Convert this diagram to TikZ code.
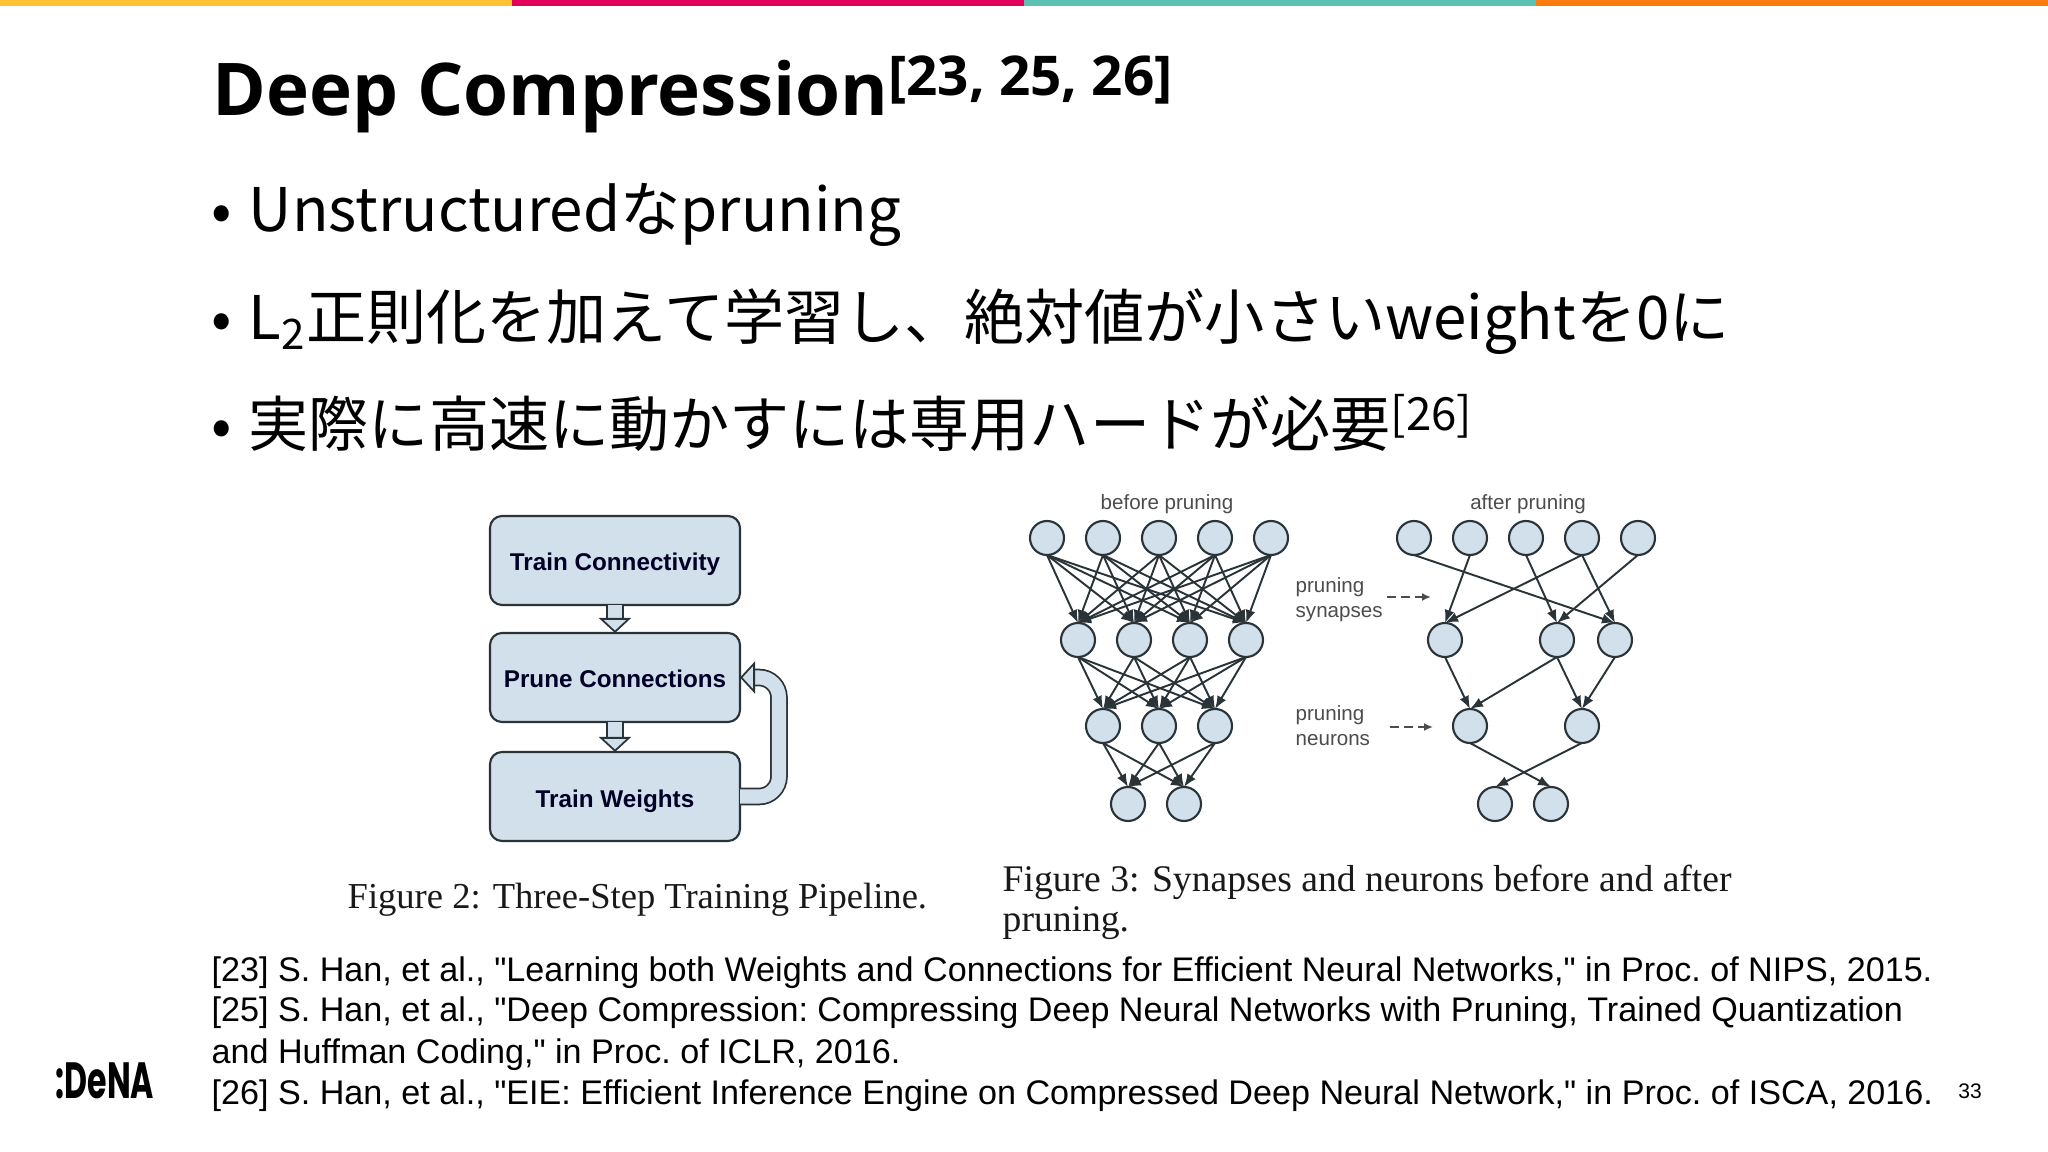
\documentclass[tikz,border=0pt]{standalone}
\usepackage{fontspec}
\setmainfont{Liberation Sans}[Ligatures=TeXOff]
\newfontfamily\jpfont{Noto Sans CJK JP}
\newfontfamily\titlefont{Open Sans}
\newfontfamily\capfont{Liberation Serif}
\newfontfamily\logofont{Poppins}
\usetikzlibrary{arrows.meta, positioning}
\definecolor{barYellow}{HTML}{FFC233}
\definecolor{barPink}{HTML}{E2005A}
\definecolor{barTeal}{HTML}{5CC1B0}
\definecolor{barOrange}{HTML}{FF7D0F}
\definecolor{boxBlue}{HTML}{D2E0EC}
\definecolor{edgeDark}{HTML}{2A3438}

\begin{document}
\begin{tikzpicture}[
            node distance=0.22cm and 0.22cm,
            title/.style={inner sep=0pt, anchor=base west, font=\titlefont\bfseries\fontsize{20.7pt}{24pt}\selectfont},
            bullet/.style={inner sep=0pt, anchor=base west, font=\jpfont\fontsize{17.1pt}{20pt}\selectfont},
            stepbox/.style={rectangle, draw=edgeDark, fill=boxBlue, line width=0.6pt, rounded corners=0.12cm, minimum width=2.5cm, minimum height=0.89cm, inner sep=0pt, outer sep=0pt, text height=0.21cm, text depth=0cm, text=black!85!blue, font=\bfseries\fontsize{6.9pt}{9pt}\selectfont},
            fatarrow/.style={draw=edgeDark, line width=0.5pt, double=boxBlue, double distance=4pt, -{Triangle[length=0.15cm, width=0.32cm, fill=boxBlue]}},
            neuron/.style={circle, draw=edgeDark, fill=boxBlue, line width=0.6pt, minimum size=0.34cm, inner sep=0pt, outer sep=0pt},
            arrow/.style={-{Latex[length=0.13cm, width=0.1cm]}, edgeDark, line width=0.55pt},
            dasharrow/.style={-{Latex[length=0.09cm, width=0.08cm]}, black!70, line width=0.5pt, dash pattern=on 0.09cm off 0.05cm},
            netlabel/.style={inner sep=0pt, text=black!70, font=\fontsize{5.85pt}{7.1pt}\selectfont},
            sidelabel/.style={netlabel, align=left, anchor=west},
            figcaption/.style={inner sep=0pt, anchor=base west, text=black!90, font=\capfont\fontsize{10.7pt}{11.6pt}\selectfont},
            reflist/.style={inner sep=0pt, anchor=base west, font=\frenchspacing\fontsize{9.71pt}{11.6pt}\selectfont}
        ]
            \useasboundingbox (0,0) rectangle (20.48,-11.52);
            \fill[white] (0,0) rectangle (20.48,-11.52);
            \fill[barYellow] (0,0) rectangle (5.12,-0.06);
            \fill[barPink] (5.12,0) rectangle (10.24,-0.06);
            \fill[barTeal] (10.24,0) rectangle (15.36,-0.06);
            \fill[barOrange] (15.36,0) rectangle (20.48,-0.06);

            \node[title] (Deck_Title) at (2.12,-1.16) {Deep Compression\raisebox{0.2cm}{\fontsize{15.6pt}{18pt}\selectfont [23, 25, 26]}};
            \node[bullet] (dot1) at (2.11,-2.32) {•};
            \node[bullet] (item1) at (2.48,-2.32) {Unstructuredなpruning};
            \node[bullet] (dot2) at (2.11,-3.40) {•};
            \node[bullet] (item2) at (2.48,-3.40) {L\textsubscript{2}正則化を加えて学習し、絶対値が小さいweightを0に};
            \node[bullet] (dot3) at (2.11,-4.47) {•};
            \node[bullet] (item3) at (2.48,-4.47) {実際に高速に動かすには専用ハードが必要\raisebox{0.16cm}{\fontsize{13pt}{14pt}\selectfont [26]}};

            \node[stepbox] (connect) at (6.15,-5.605) {Train Connectivity};
            \node[stepbox, below=0.28cm of connect] (prune) {Prune Connections};
            \node[stepbox, below=0.30cm of prune] (weights) {Train Weights};
            \draw[fatarrow] (connect) -- (prune);
            \draw[fatarrow] (prune) -- (weights);
            \draw[fatarrow, rounded corners=0.2cm] (weights.east) -- ++(0.39,0) |- (prune.east);

            \node[netlabel] (before) at (11.67,-5.04) {before pruning};
            \node[neuron] (a1) at (10.47,-5.38) {};
            \node[neuron, right=of a1] (a2) {};
            \node[neuron, right=of a2] (a3) {};
            \node[neuron, right=of a3] (a4) {};
            \node[neuron, right=of a4] (a5) {};
            \node[neuron, below=0.68cm of a1, xshift=0.31cm] (b1) {};
            \node[neuron, right=of b1] (b2) {};
            \node[neuron, right=of b2] (b3) {};
            \node[neuron, right=of b3] (b4) {};
            \node[neuron, below=0.52cm of b1, xshift=0.25cm] (c1) {};
            \node[neuron, right=of c1] (c2) {};
            \node[neuron, right=of c2] (c3) {};
            \node[neuron, below=0.44cm of c1, xshift=0.25cm] (d1) {};
            \node[neuron, right=of d1] (d2) {};
            \foreach \i in {1,...,5} \foreach \j in {1,...,4} \draw[arrow] (a\i.south) -- (b\j.north);
            \foreach \i in {1,...,4} \foreach \j in {1,...,3} \draw[arrow] (b\i.south) -- (c\j.north);
            \foreach \i in {1,...,3} \foreach \j in {1,2} \draw[arrow] (c\i.south) -- (d\j.north);

            \node[netlabel] (after) at (15.28,-5.04) {after pruning};
            \node[neuron] (pa1) at (14.14,-5.38) {};
            \node[neuron, right=of pa1] (pa2) {};
            \node[neuron, right=of pa2] (pa3) {};
            \node[neuron, right=of pa3] (pa4) {};
            \node[neuron, right=of pa4] (pa5) {};
            \node[neuron, below=0.68cm of pa1, xshift=0.31cm] (pb1) {};
            \node[neuron, right=0.78cm of pb1] (pb2) {};
            \node[neuron, right=0.24cm of pb2] (pb3) {};
            \node[neuron, below=0.52cm of pb1, xshift=0.25cm] (pc1) {};
            \node[neuron, right=0.78cm of pc1] (pc2) {};
            \node[neuron, below=0.44cm of pc1, xshift=0.25cm] (pd1) {};
            \node[neuron, right=of pd1] (pd2) {};
            \draw[arrow] (pa1.south) -- (pb3.north);
            \draw[arrow] (pa2.south) -- (pb1.north);
            \draw[arrow] (pa3.south) -- (pb2.north);
            \draw[arrow] (pa4.south) -- (pb1.north);
            \draw[arrow] (pa4.south) -- (pb3.north);
            \draw[arrow] (pa5.south) -- (pb2.north);
            \draw[arrow] (pb1.south) -- (pc1.north);
            \draw[arrow] (pb2.south) -- (pc1.north);
            \draw[arrow] (pb2.south) -- (pc2.north);
            \draw[arrow] (pb3.south) -- (pc2.north);
            \draw[arrow] (pc1.south) -- (pd2.north);
            \draw[arrow] (pc2.south) -- (pd1.north);

            \node[sidelabel] (synapses) at (12.95,-6.0) {pruning\\synapses};
            \node[sidelabel] (neurons) at (12.95,-7.26) {pruning\\neurons};
            \coordinate (synstart) at (13.87,-5.97);
            \coordinate (synend) at (14.31,-5.97);
            \coordinate (neustart) at (13.90,-7.27);
            \coordinate (neuend) at (14.33,-7.27);
            \draw[dasharrow] (synstart) -- (synend);
            \draw[dasharrow] (neustart) -- (neuend);

            \node[figcaption, font=\capfont\fontsize{10.4pt}{11.6pt}\selectfont] (fig2) at (3.47,-9.08) {Figure 2: Three-Step Training Pipeline.};
            \node[figcaption] (fig3) at (10.02,-8.91) {Figure 3: Synapses and neurons before and after};
            \node[figcaption, below=0.41cm of fig3.base west, anchor=base west] (fig3b) {pruning.};

            \node[reflist] (ref1) at (2.11,-9.81) {[23] S. Han, et al., "Learning both Weights and Connections for Efficient Neural Networks," in Proc. of NIPS, 2015.};
            \node[reflist] (ref2) at (2.11,-10.22) {[25] S. Han, et al., "Deep Compression: Compressing Deep Neural Networks with Pruning, Trained Quantization};
            \node[reflist] (ref3) at (2.11,-10.63) {and Huffman Coding," in Proc. of ICLR, 2016.};
            \node[reflist] (ref4) at (2.11,-11.04) {[26] S. Han, et al., "EIE: Efficient Inference Engine on Compressed Deep Neural Network," in Proc. of ISCA, 2016.};
            \node[inner sep=0pt, font=\fontsize{6pt}{7pt}\selectfont] (pagenum) at (19.70,-10.91) {33};
            \node[inner sep=0pt, font=\logofont\bfseries\fontsize{14.5pt}{16pt}\selectfont, xscale=0.62] (logo) at (1.05,-10.81) {:DeNA};
        \end{tikzpicture}
\end{document}
